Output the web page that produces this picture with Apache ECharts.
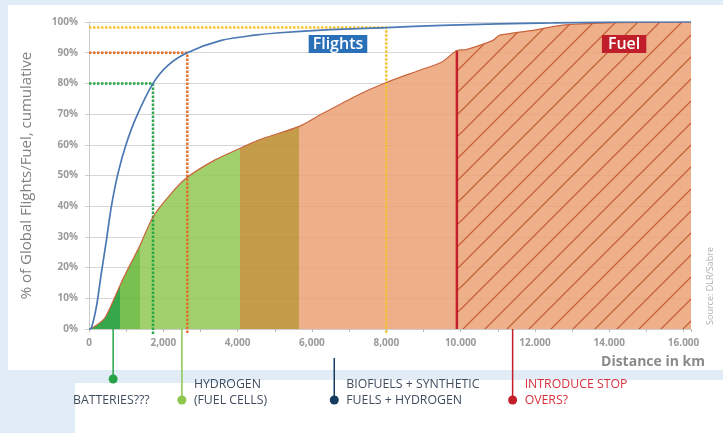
<!DOCTYPE html>
<html><head><meta charset="utf-8">
<script src="https://cdn.jsdelivr.net/npm/echarts@6/dist/echarts.min.js"></script>
<style>html,body{margin:0;padding:0;background:#e1ecf7;}#c{width:723px;height:433px;}</style>
</head><body><div id="c"></div>
<script>
// ---- data ----
const flightsKm  = [0, 60, 200, 330, 470, 600, 780, 1005, 1275, 1722, 2125, 2645, 3560, 4460, 5130, 6500, 8000, 9500, 11000, 12500, 13500, 14500, 16200];
const flightsPct = [0, 0.2, 7.3, 18, 29, 39.8, 50.7, 60.4, 69.1, 80, 85.9, 90, 94, 95.7, 96.5, 97.5, 98.2, 98.9, 99.4, 99.7, 99.9, 100, 100];
const fuelKm  = [0, 150, 420, 600, 850, 1100, 1364, 1722, 2215, 2645, 3380, 4055, 4550, 5660, 6200, 7200, 7980, 8900, 9500, 9900, 10150, 10870, 11050, 11950, 12750, 13930, 16200];
const fuelPct = [0, 0.8, 3.5, 7.8, 14.6, 20.8, 27.0, 36.5, 44.2, 49.4, 55, 58.8, 61.5, 66, 69.6, 76, 80.2, 84.3, 87, 90.7, 91, 94, 95.7, 97.3, 99, 99.7, 100];
const zoneEdgesKm = [845, 1364, 4055, 5660];
const zoneColors = ['rgba(18,151,42,0.85)', 'rgba(97,181,49,0.85)', 'rgba(144,200,82,0.85)', 'rgba(186,139,42,0.85)', 'rgba(235,162,117,0.85)'];
const guideKm  = [1722, 2645, 8000];
const guidePct = [80, 90, 98.2];
const guideColors = ['#2aa84a', '#e5702c', '#f4c430'];
const stopKm = 9900;
const xTickValues = [0, 2000, 4000, 6000, 8000, 10000, 12000, 14000, 16000];
const xTickLabels = ['0', '2,000', '4,000', '6,000', '8,000', '10.000', '12.000', '14.000', '16.000'];
const calloutKm = [650, 2500, 6600, 11400];
const calloutText = ['BATTERIES???', 'HYDROGEN\n(FUEL CELLS)', 'BIOFUELS + SYNTHETIC\nFUELS + HYDROGEN', 'INTRODUCE STOP\nOVERS?'];
const calloutColors = ['#27a347', '#8cc84c', '#153b5e', '#c41e2a'];

const FONT = '"Open Sans", "Noto Sans", sans-serif';
const zip = (a, b) => a.map((v, i) => [v, b[i]]);
const fuelData = zip(fuelKm, fuelPct);
const stopPct = fuelPct[fuelKm.indexOf(stopKm)];
const SM = 0.25;

function hatch() {
  const s = 22, c = document.createElement('canvas');
  c.width = s; c.height = s;
  const g = c.getContext('2d');
  g.strokeStyle = '#c4552c'; g.lineWidth = 1.2;
  g.beginPath();
  g.moveTo(0, s); g.lineTo(s, 0);
  g.moveTo(-2, 2); g.lineTo(2, -2);
  g.moveTo(s - 2, s + 2); g.lineTo(s + 2, s - 2);
  g.stroke();
  return c;
}

const pieces = zoneColors.map((col, i) => {
  const p = { color: col };
  if (i > 0) p.gte = zoneEdgesKm[i - 1];
  if (i < zoneEdgesKm.length) p.lt = zoneEdgesKm[i];
  return p;
});

const guideSeries = guideKm.map((km, i) => ({
  type: 'line', silent: true, clip: false, symbol: 'none', z: 4,
  data: [[0, guidePct[i]], [km, guidePct[i]], [km, -1.8]],
  lineStyle: { color: guideColors[i], width: 2.5, type: [2.5, 1.5] }
}));

const chart = echarts.init(document.getElementById('c'), null, { renderer: 'canvas' });
chart.setOption({
  backgroundColor: '#e1ecf7',
  animation: false,
  textStyle: { fontFamily: FONT },
  grid: { left: 89, right: 32, top: 22, bottom: 104 },
  xAxis: {
    type: 'value', min: 0, max: 16200, interval: 1000,
    axisLine: { lineStyle: { color: '#cccccc' } },
    axisTick: { show: true, length: 3, lineStyle: { color: '#bbbbbb' } },
    splitLine: { show: false },
    axisLabel: {
      margin: 9, color: '#9a9a9a', fontWeight: 'bold', fontSize: 10, fontFamily: FONT,
      formatter: v => { const i = xTickValues.indexOf(v); return i >= 0 ? xTickLabels[i] : ''; }
    }
  },
  yAxis: {
    type: 'value', min: 0, max: 100, interval: 10,
    name: '% of Global Flights/Fuel, cumulative', nameLocation: 'middle', nameGap: 55, nameRotate: 90,
    nameTextStyle: { color: '#808080', fontSize: 15, fontFamily: FONT },
    axisLine: { show: true, lineStyle: { color: '#cccccc' } },
    axisTick: { show: true, length: 4, lineStyle: { color: '#cccccc' } },
    splitLine: { lineStyle: { color: '#d6d6d6' } },
    axisLabel: { margin: 11, color: '#9a9a9a', fontWeight: 'bold', fontSize: 10, fontFamily: FONT, formatter: '{value}%' }
  },
  visualMap: { show: false, type: 'piecewise', dimension: 0, seriesIndex: 0, pieces: pieces },
  series: [
    { name: 'FuelArea', type: 'line', symbol: 'none', data: fuelData, z: 2, smooth: SM,
      lineStyle: { opacity: 0 }, areaStyle: { opacity: 1 } },
    { name: 'FuelHatch', type: 'line', symbol: 'none', z: 3, smooth: SM,
      data: fuelData.filter(d => d[0] >= stopKm),
      lineStyle: { opacity: 0 }, areaStyle: { color: { image: hatch(), repeat: 'repeat' }, opacity: 1 } },
    ...guideSeries,
    { name: 'Stop', type: 'line', symbol: 'none', z: 5, data: [[stopKm, 0], [stopKm, stopPct]],
      lineStyle: { color: '#c41f2b', width: 2.5 } },
    { name: 'Fuel', type: 'line', symbol: 'none', z: 6, data: fuelData, smooth: SM,
      lineStyle: { color: '#c9643c', width: 1.2 } },
    { name: 'Flights', type: 'line', symbol: 'none', z: 7, smooth: 0.3,
      data: zip(flightsKm, flightsPct), lineStyle: { color: '#4a78b4', width: 1.7 } }
  ]
});

// ---- decorations and call-outs (x taken from the axis scale) ----
const gx = km => chart.convertToPixel({ xAxisIndex: 0 }, km);
const gy = pct => chart.convertToPixel({ yAxisIndex: 0 }, pct);
const axisY = gy(0);
const graphics = [
  { type: 'rect', z: -10, shape: { x: 8, y: 5, width: 715, height: 365 }, style: { fill: '#ffffff' } },
  { type: 'rect', z: -10, shape: { x: 75, y: 383, width: 648, height: 50 }, style: { fill: '#ffffff' } },
  { type: 'rect', z: -10, shape: { x: 233, y: 380, width: 490, height: 5 }, style: { fill: '#ffffff' } },
  { type: 'text', z: 10, style: { text: 'Flights', x: gx(6700), y: 44, align: 'center', verticalAlign: 'middle',
      fill: '#ffffff', backgroundColor: '#2a70b8', padding: [1, 4, 1, 4], font: '600 16px ' + FONT } },
  { type: 'text', z: 10, style: { text: 'Fuel', x: gx(14400), y: 44, align: 'center', verticalAlign: 'middle',
      fill: '#ffffff', backgroundColor: '#c01e2a', padding: [1, 6, 1, 6], font: '600 16px ' + FONT } },
  { type: 'text', z: 10, style: { text: 'Distance in km', x: 705, y: 362, align: 'right', verticalAlign: 'middle',
      fill: '#8a8a8a', font: 'bold 14px ' + FONT } },
  { type: 'text', z: 10, x: 710, y: 286, rotation: Math.PI / 2,
    style: { text: 'Source: DLR/Sabre', x: 0, y: 0, align: 'center', verticalAlign: 'middle', fill: '#b0b0b0', font: '9px ' + FONT } }
];
const callTop = [axisY, axisY, 358, axisY];
const dotY = [379, 400, 400, 400];
const textColors = ['#3f4d5e', '#3f4d5e', '#3f4d5e', '#d8303c'];
calloutKm.forEach((km, i) => {
  const x = gx(km);
  graphics.push({ type: 'line', z: 10, shape: { x1: x, y1: callTop[i], x2: x, y2: dotY[i] },
    style: { stroke: calloutColors[i], lineWidth: 1.5 } });
  graphics.push({ type: 'circle', z: 11, shape: { cx: x, cy: dotY[i], r: 4.5 }, style: { fill: calloutColors[i] } });
  if (i === 0) {
    graphics.push({ type: 'text', z: 10, style: { text: calloutText[i], x: 73, y: 400, align: 'left', verticalAlign: 'middle',
      fill: textColors[i], font: '12.3px ' + FONT } });
  } else {
    graphics.push({ type: 'text', z: 10, style: { text: calloutText[i], x: x + 12, y: 392, align: 'left', verticalAlign: 'middle',
      lineHeight: 16, fill: textColors[i], font: '12.3px ' + FONT } });
  }
});
chart.setOption({ graphic: graphics });
</script></body></html>
